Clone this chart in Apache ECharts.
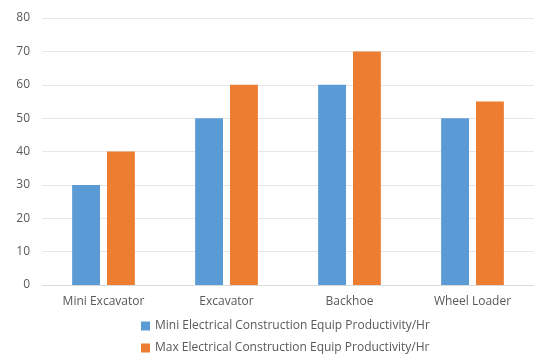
<!DOCTYPE html>
<html>
<head>
<meta charset="utf-8">
<script src="https://cdn.jsdelivr.net/npm/echarts@6/dist/echarts.min.js"></script>
<style>
  html, body { margin: 0; padding: 0; background: #fff; }
  #chart { width: 534px; height: 354px; }
</style>
</head>
<body>
<div id="chart"></div>
<script>
const categories = ['Mini Excavator', 'Excavator', 'Backhoe', 'Wheel Loader'];
const miniValues = [30, 50, 60, 50];
const maxValues = [40, 60, 70, 55];
const seriesNames = [
  'Mini Electrical Construction Equip Productivity/Hr',
  'Max Electrical Construction Equip Productivity/Hr'
];

const textColor = '#595959';
const font = 'Open Sans';

// one legend per row so the two entries stack like the original
const legendRow = (name, top) => ({
  data: [name],
  left: 136,
  top: top,
  itemWidth: 9,
  itemHeight: 9,
  icon: 'rect',
  textStyle: { color: textColor, fontSize: 12, fontFamily: font }
});

echarts.init(document.getElementById('chart')).setOption({
  animation: false,
  color: ['#5B9BD5', '#ED7D31'],
  grid: {
    left: 42,
    right: 0,
    top: 18,
    bottom: 69
  },
  legend: [
    legendRow(seriesNames[0], 315),
    legendRow(seriesNames[1], 337)
  ],
  xAxis: {
    type: 'category',
    data: categories,
    axisTick: { show: false },
    axisLine: { lineStyle: { color: '#d9d9d9' } },
    axisLabel: { color: textColor, fontSize: 12, fontFamily: font, margin: 11 }
  },
  yAxis: {
    type: 'value',
    min: 0,
    max: 80,
    interval: 10,
    axisLabel: { color: textColor, fontSize: 12, fontFamily: font, margin: 12 },
    splitLine: { lineStyle: { color: '#e6e6e6' } }
  },
  series: [
    {
      name: seriesNames[0],
      type: 'bar',
      data: miniValues,
      barGap: '25%',
      barCategoryGap: '49%'
    },
    {
      name: seriesNames[1],
      type: 'bar',
      data: maxValues
    }
  ]
});
</script>
</body>
</html>
